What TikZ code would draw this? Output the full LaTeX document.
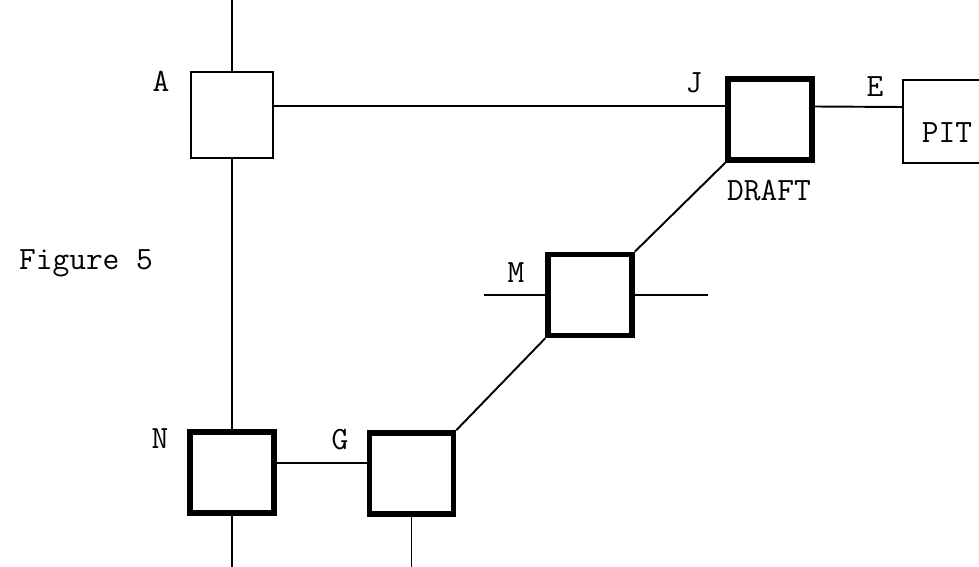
\documentclass[tikz,border=0pt]{standalone}
\usetikzlibrary{calc}
\begin{document}
\begin{tikzpicture}[
    x=0.02cm, y=-0.02cm,
    every node/.style={font=\fontsize{18.5}{20}\selectfont\ttfamily},
    wire/.style={line width=1.1pt},
    plain/.style={draw, line width=1.2pt, inner sep=0pt, minimum width=1.64cm, minimum height=1.72cm},
    heavy/.style={draw, line width=3.2pt, inner sep=0pt, minimum width=1.68cm, minimum height=1.62cm},
    tag/.style={anchor=base, inner sep=0pt}
  ]
  \clip (0,0) rectangle (979,567);
  \fill[white] (0,0) rectangle (979,567);

  % Boxes
  \node[plain] (A) at (232,115) {};
  \node[heavy] (J) at (770,119.5) {};
  \node[plain, minimum width=1.76cm, minimum height=1.66cm] (pit) at (947,121.5) {};
  \node[heavy] (M) at (590,295) {};
  \node[heavy] (N) at (232,472.5) {};
  \node[heavy] (G) at (411.5,473.5) {};

  % Loose ends
  \coordinate (top) at (232,0);
  \coordinate (bottom) at (232,567);
  \coordinate (mleft) at (484,295);
  \coordinate (mright) at (708,295);

  % Lines
  \draw[wire] (A.north) -- (A.north |- top);
  \draw[wire] (A.south) -- (N.north);
  \draw[wire] (N.south) -- (N.south |- bottom);
  \draw[wire] ($(A.east)+(0,-9)$) -- ($(J.west)+(0,-13.5)$);
  \draw[wire] ($(J.east)+(0,-13)$) -- ($(pit.west)+(0,-14.5)$);
  \draw[wire] (J.south west) -- (M.north east);
  \draw[wire] (mleft) -- (M.west);
  \draw[wire] (M.east) -- (mright);
  \draw[wire] (M.south west) -- (G.north east);
  \draw[wire] ($(N.east)+(0,-9.5)$) -- ($(G.west)+(0,-10.5)$);
  \draw[wire] (G.south) -- (G.south |- bottom);

  % Labels
  \node[tag] (la) at (161,92) {A};
  \node[tag] (lj) at (694,93) {J};
  \node[tag] (le) at (875,97) {E};
  \node[tag] (lm) at (516,282) {M};
  \node[tag] (ln) at (160,448) {N};
  \node[tag] (lg) at (340,449) {G};
  \node[tag] (draft) at (769,201) {DRAFT};
  \node[tag] (pitname) at (947,143) {PIT};
  \node[tag] (fig) at (86,270) {Figure 5};
\end{tikzpicture}
\end{document}
